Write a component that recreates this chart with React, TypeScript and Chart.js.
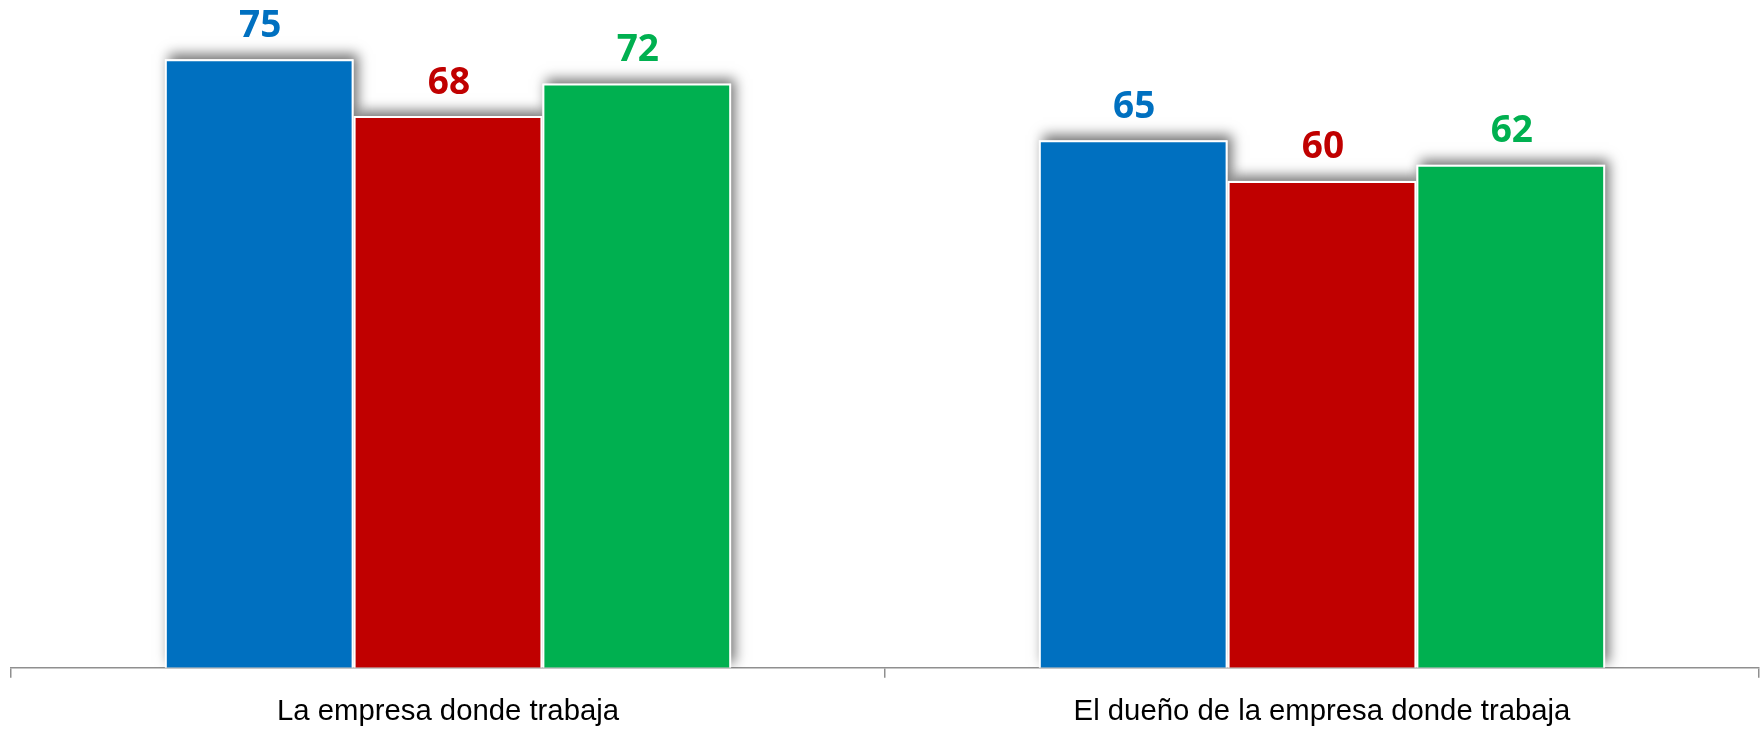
import React, { useEffect, useRef } from "react";
import { Chart, registerables } from "chart.js";

Chart.register(...registerables);

const categories = ["La empresa donde trabaja", "El dueño de la empresa donde trabaja"];
const seriesNames = ["Serie 1", "Serie 2", "Serie 3"];
const blueValues = [75, 65];
const redValues = [68, 60];
const greenValues = [72, 62];
const seriesColors = ["#0070C0", "#C00000", "#00B050"];
const yMin = 0;
const yMax = 82.3;

const shadowPlugin = {
  id: "barShadow",
  beforeDatasetsDraw(chart: any) {
    const ctx = chart.ctx;
    const area = chart.chartArea;
    ctx.save();
    ctx.beginPath();
    ctx.rect(0, 0, chart.width, area.bottom);
    ctx.clip();
    ctx.shadowColor = "rgba(0,0,0,0.55)";
    ctx.shadowBlur = 12;
    ctx.shadowOffsetX = 4;
    ctx.shadowOffsetY = -5;
    ctx.fillStyle = "#ffffff";
    chart.data.datasets.forEach((_ds: any, i: number) => {
      const meta = chart.getDatasetMeta(i);
      meta.data.forEach((el: any) => {
        const { x, y, base, width } = el.getProps(["x", "y", "base", "width"], true);
        ctx.fillRect(x - width / 2, y, width, base - y);
      });
    });
    ctx.restore();
  },
};

const labelPlugin = {
  id: "barLabels",
  afterDatasetsDraw(chart: any) {
    const ctx = chart.ctx;
    ctx.save();
    ctx.font = "bold 37px 'Open Sans', 'Noto Sans', sans-serif";
    ctx.textAlign = "center";
    ctx.textBaseline = "alphabetic";
    chart.data.datasets.forEach((ds: any, i: number) => {
      const meta = chart.getDatasetMeta(i);
      ctx.fillStyle = seriesColors[i];
      meta.data.forEach((el: any, j: number) => {
        const { x, y } = el.getProps(["x", "y"], true);
        ctx.fillText(String(ds.data[j]), x + 1, y - 22.5);
      });
    });
    ctx.restore();
  },
};

export default function App() {
  const canvasRef = useRef<HTMLCanvasElement | null>(null);

  useEffect(() => {
    if (!canvasRef.current) return;
    const chart = new Chart(canvasRef.current, {
      type: "bar",
      data: {
        labels: categories,
        datasets: [
          { label: seriesNames[0], data: blueValues, backgroundColor: seriesColors[0], borderColor: "#ffffff", borderWidth: 2 },
          { label: seriesNames[1], data: redValues, backgroundColor: seriesColors[1], borderColor: "#ffffff", borderWidth: 2 },
          { label: seriesNames[2], data: greenValues, backgroundColor: seriesColors[2], borderColor: "#ffffff", borderWidth: 2 },
        ],
      },
      options: {
        animation: false,
        responsive: false,
        layout: { padding: { left: 11, right: 5, top: 0, bottom: 0 } },
        plugins: { legend: { display: false }, tooltip: { enabled: false } },
        datasets: { bar: { categoryPercentage: 0.648, barPercentage: 1 } } as any,
        scales: {
          x: {
            grid: {
              display: true,
              drawOnChartArea: false,
              drawTicks: true,
              tickLength: 10,
              color: "#8f8f8f",
              lineWidth: 1.5,
            },
            border: { display: true, color: "#8f8f8f", width: 1.5 },
            ticks: {
              color: "#000000",
              font: { family: "'Liberation Sans', Arial, sans-serif", size: 29.3 },
              padding: 16.6,
              maxRotation: 0,
              autoSkip: false,
            },
          },
          y: { display: false, min: yMin, max: yMax },
        },
      },
      plugins: [shadowPlugin, labelPlugin],
    });
    return () => chart.destroy();
  }, []);

  return (
    <div style={{ position: "fixed", left: 0, top: 0, width: 1764, height: 729, overflow: "hidden", background: "#fff" }}>
      <canvas ref={canvasRef} width={1764} height={746} style={{ display: "block" }} />
    </div>
  );
}
